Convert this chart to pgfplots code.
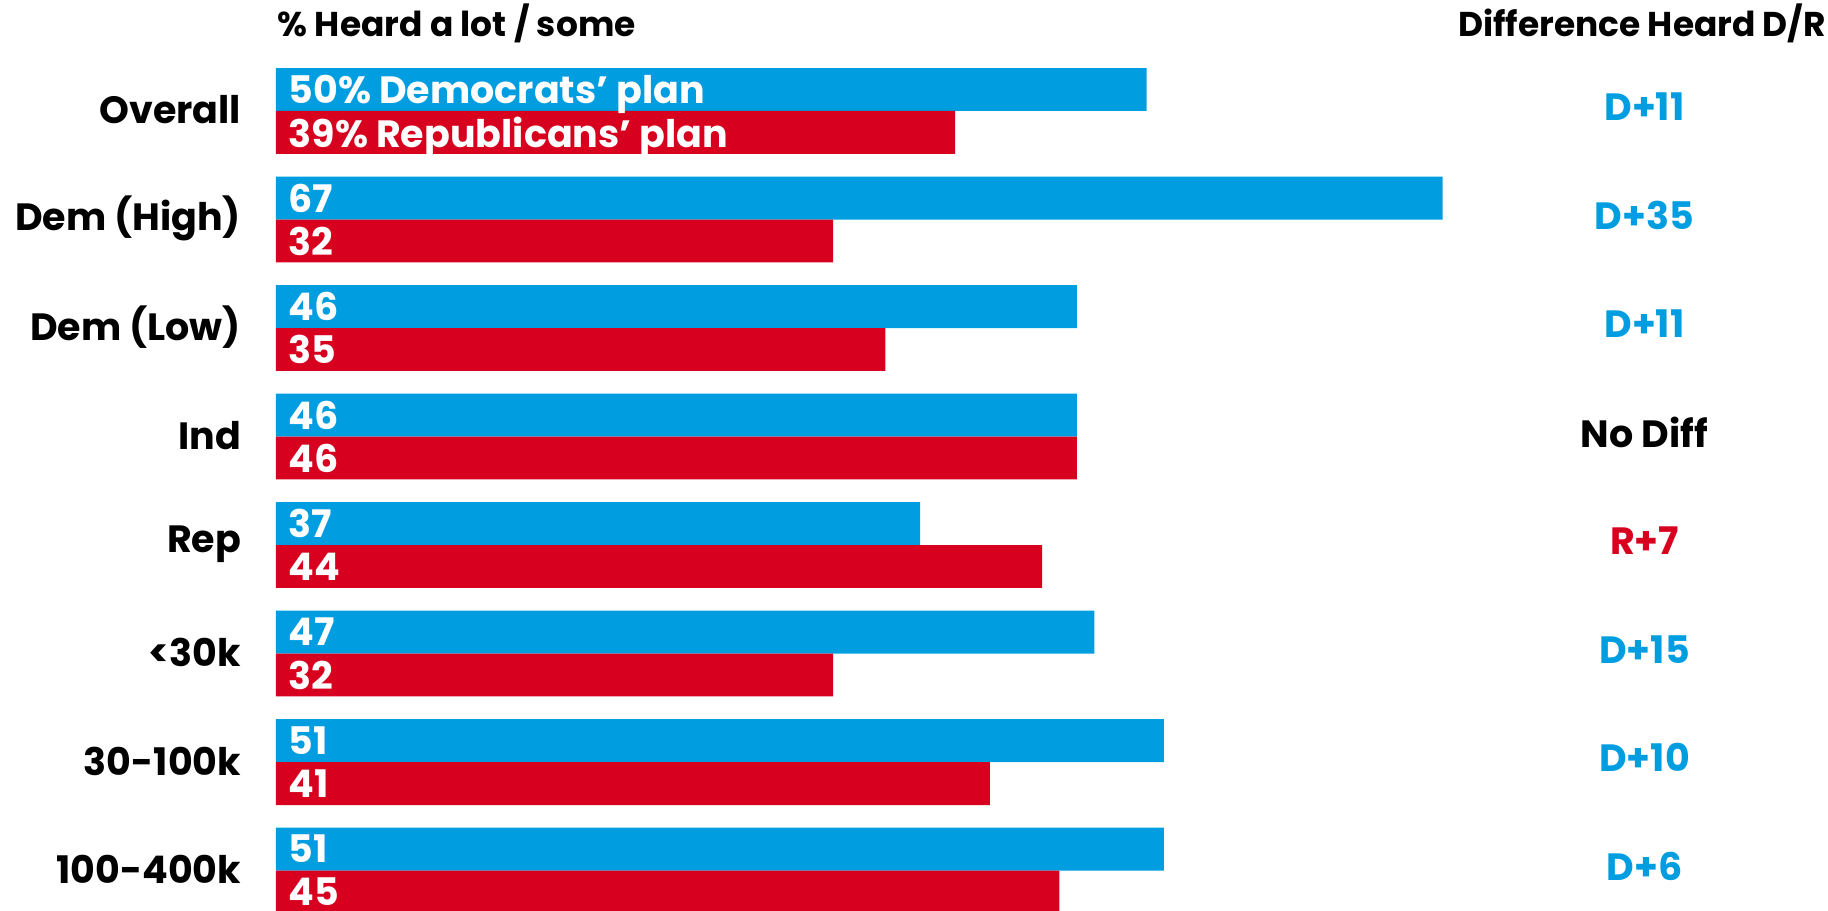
\documentclass[border=0pt]{standalone}
\usepackage{fontspec}
\setmainfont{Poppins}
\usepackage{pgfplots}
\pgfplotsset{compat=1.18}
\definecolor{dblue}{RGB}{0,158,224}
\definecolor{rred}{RGB}{215,0,30}
\begin{document}
\begin{tikzpicture}
\begin{axis}[
  at={(0,0)}, anchor=south west,
  scale only axis, width=914pt, height=455.5pt,
  xmin=-15.85, xmax=89.14, ymin=-1.023, ymax=7.373, y dir=reverse,
  hide axis,
]
\addplot[xbar, fill=dblue, draw=none, bar width=0.396, bar shift=-0.198]
  coordinates {(50,0) (67,1) (46,2) (46,3) (37,4) (47,5) (51,6) (51,7)};
\addplot[xbar, fill=rred, draw=none, bar width=0.396, bar shift=0.198]
  coordinates {(39,0) (32,1) (35,2) (46,3) (44,4) (32,5) (41,6) (45,7)};
\coordinate (ll) at (rel axis cs:0,0);
\coordinate (ur) at (rel axis cs:1,1);
% titles
\node[anchor=west, font=\bfseries\fontsize{17.2}{17.2}\selectfont] at (axis cs:-0.3,-0.811) {\% Heard a lot / some};
\node[anchor=east, font=\bfseries\fontsize{17.2}{17.2}\selectfont] at (axis cs:89.43,-0.811) {Difference Heard D/R};
% category labels
\foreach \lab [count=\i from 0] in {Overall,Dem (High),Dem (Low),Ind,Rep,<30k,30-100k,100-400k}{
  \edef\temp{\noexpand\node[anchor=east, font=\noexpand\bfseries\noexpand\fontsize{19}{19}\noexpand\selectfont] at (axis cs:-1.6,\i-0.01) {\lab};}
  \temp
}
% bar labels
\foreach \d/\r [count=\i from 0] in {50\% Democrats’ plan/39\% Republicans’ plan,67/32,46/35,46/46,37/44,47/32,51/41,51/45}{
  \edef\temp{\noexpand\node[anchor=west, text depth=0pt, text=white, font=\noexpand\bfseries\noexpand\fontsize{19}{19}\noexpand\selectfont] at (axis cs:0.33,\i-0.198) {\d};
  \noexpand\node[anchor=west, text depth=0pt, text=white, font=\noexpand\bfseries\noexpand\fontsize{19}{19}\noexpand\selectfont] at (axis cs:0.33,\i+0.198) {\r};}
  \temp
}
% difference labels
\foreach \lab/\col [count=\i from 0] in {D+11/dblue,D+35/dblue,D+11/dblue,No Diff/black,R+7/rred,D+15/dblue,D+10/dblue,D+6/dblue}{
  \edef\temp{\noexpand\node[anchor=center, text depth=0pt, text=\col, font=\noexpand\bfseries\noexpand\fontsize{19}{19}\noexpand\selectfont] at (axis cs:78.6,\i-0.04) {\lab};}
  \temp
}
\end{axis}
\pgfresetboundingbox
\useasboundingbox (ll) rectangle (ur);
\end{tikzpicture}
\end{document}
